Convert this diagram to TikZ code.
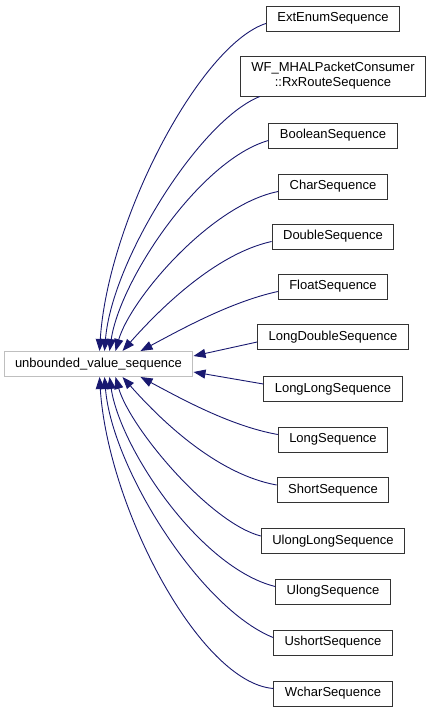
\documentclass[tikz,border=0pt]{standalone}
\usepackage{fontspec}
\setmainfont{Liberation Sans}
\usetikzlibrary{arrows.meta}
\definecolor{edgeblue}{HTML}{191970}
\begin{document}
\begin{tikzpicture}[x=1pt,y=-1pt,
  cls/.style={draw=black!80, fill=white, line width=1pt, inner xsep=11pt, inner ysep=0pt,
    minimum height=25pt, font=\fontsize{13}{15}\selectfont, align=center},
  mainnode/.style={cls, draw=black!25},
  inh/.style={draw=edgeblue, line width=0.9pt, -{Triangle[length=12pt,width=9pt]}, fill=none},
]
\useasboundingbox (0,0) rectangle (433,712);
\node[mainnode] (main) at (98.5,364) {unbounded\_value\_sequence};
\node[cls] (ext) at (333,18.5) {ExtEnumSequence};
\node[cls, minimum height=40pt] (wf) at (333,76) {WF\_MHALPacketConsumer\\::RxRouteSequence};
\node[cls] (bool) at (333,135.5) {BooleanSequence};
\node[cls] (char) at (333,186.5) {CharSequence};
\node[cls] (dbl) at (333,236.5) {DoubleSequence};
\node[cls] (flt) at (333,286.5) {FloatSequence};
\node[cls] (ldbl) at (333,337) {LongDoubleSequence};
\node[cls] (llong) at (333,389) {LongLongSequence};
\node[cls] (long) at (333,439.5) {LongSequence};
\node[cls] (short) at (333,490) {ShortSequence};
\node[cls] (ullong) at (333,541) {UlongLongSequence};
\node[cls] (ulong) at (333,591.5) {UlongSequence};
\node[cls] (ushort) at (333,642.5) {UshortSequence};
\node[cls] (wchar) at (333,693.5) {WcharSequence};

\draw[inh] ([yshift=-5pt]ext.west) .. controls (200,45) and (108,220) .. ([xshift=96pt]main.north west);
\draw[inh] ([xshift=20pt]wf.south west) .. controls (200,120) and (112,260) .. ([xshift=101pt]main.north west);
\draw[inh] ([yshift=-5pt]bool.west) .. controls (200,160) and (120,280) .. ([xshift=106pt]main.north west);
\draw[inh] ([yshift=-5pt]char.west) .. controls (210,205) and (130,300) .. ([xshift=112pt]main.north west);
\draw[inh] ([yshift=-5pt]dbl.west) .. controls (210,255) and (150,320) .. ([xshift=119pt]main.north west);
\draw[inh] ([yshift=-5pt]flt.west) .. controls (230,302) and (180,330) .. ([xshift=137pt]main.north west);
\draw[inh] ([yshift=-5pt]ldbl.west) -- ([yshift=8pt]main.east);
\draw[inh] ([yshift=5pt]llong.west) -- ([yshift=-8pt]main.east);
\draw[inh] ([yshift=5pt]long.west) .. controls (230,426) and (180,398) .. ([xshift=137pt]main.south west);
\draw[inh] ([yshift=5pt]short.west) .. controls (210,473) and (150,408) .. ([xshift=119pt]main.south west);
\draw[inh] ([yshift=5pt]ullong.west) .. controls (210,523) and (130,428) .. ([xshift=112pt]main.south west);
\draw[inh] ([yshift=5pt]ulong.west) .. controls (200,568) and (120,448) .. ([xshift=106pt]main.south west);
\draw[inh] ([yshift=5pt]ushort.west) .. controls (200,608) and (112,468) .. ([xshift=101pt]main.south west);
\draw[inh] ([yshift=5pt]wchar.west) .. controls (200,683) and (108,508) .. ([xshift=96pt]main.south west);
\end{tikzpicture}
\end{document}
